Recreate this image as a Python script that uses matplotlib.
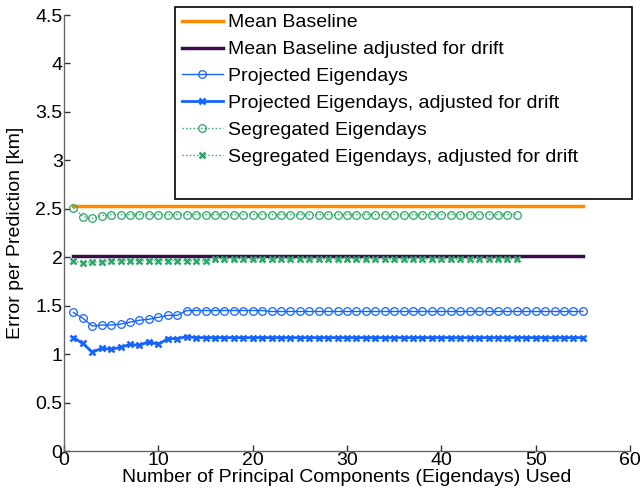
import numpy as np
import matplotlib
matplotlib.use('Agg')
import matplotlib.pyplot as plt
from matplotlib.patches import Rectangle

plt.rcParams['font.family'] = ['Liberation Sans', 'DejaVu Sans']

labels = [
    'Mean Baseline',
    'Mean Baseline adjusted for drift',
    'Projected Eigendays',
    'Projected Eigendays, adjusted for drift',
    'Segregated Eigendays',
    'Segregated Eigendays, adjusted for drift',
]

base_x = [1, 55]
mean_base = [2.53, 2.53]
mean_drift = [2.01, 2.01]

proj_x = list(range(1, 56))
proj = [1.43, 1.37, 1.29, 1.30, 1.30, 1.31, 1.33, 1.35, 1.36, 1.38,
        1.40, 1.40, 1.45, 1.45, 1.45, 1.45, 1.45, 1.45, 1.45, 1.45,
        1.45, 1.44, 1.44, 1.44, 1.44, 1.44, 1.44, 1.44, 1.44, 1.44,
        1.44, 1.44, 1.44, 1.44, 1.44, 1.44, 1.44, 1.44, 1.44, 1.44,
        1.44, 1.44, 1.44, 1.44, 1.44, 1.44, 1.44, 1.44, 1.44, 1.44,
        1.44, 1.44, 1.44, 1.44, 1.44]
proj_drift = [1.17, 1.11, 1.02, 1.06, 1.05, 1.07, 1.10, 1.09, 1.13, 1.10,
              1.16, 1.16, 1.18, 1.17, 1.17, 1.17, 1.17, 1.17, 1.17, 1.17,
              1.17, 1.17, 1.17, 1.17, 1.17, 1.17, 1.17, 1.17, 1.17, 1.17,
              1.17, 1.17, 1.17, 1.17, 1.17, 1.17, 1.17, 1.17, 1.17, 1.17,
              1.17, 1.17, 1.17, 1.17, 1.17, 1.17, 1.17, 1.17, 1.17, 1.17,
              1.17, 1.17, 1.17, 1.17, 1.17]

seg_x = list(range(1, 49))
seg = [2.51, 2.42, 2.40, 2.43, 2.44, 2.44, 2.44, 2.44, 2.44, 2.44,
       2.44, 2.44, 2.44, 2.44, 2.44, 2.44, 2.44, 2.44, 2.44, 2.44,
       2.44, 2.44, 2.44, 2.44, 2.44, 2.44, 2.44, 2.44, 2.44, 2.44,
       2.44, 2.44, 2.44, 2.44, 2.44, 2.44, 2.44, 2.44, 2.44, 2.44,
       2.44, 2.44, 2.44, 2.44, 2.44, 2.44, 2.44, 2.44]
seg_drift = [1.965, 1.94, 1.95, 1.95, 1.965, 1.965, 1.965, 1.965, 1.965, 1.965,
             1.965, 1.965, 1.965, 1.965, 1.965, 1.98, 1.98, 1.98, 1.98, 1.98,
             1.98, 1.98, 1.98, 1.98, 1.98, 1.98, 1.98, 1.98, 1.98, 1.98,
             1.98, 1.98, 1.98, 1.98, 1.98, 1.98, 1.98, 1.98, 1.98, 1.98,
             1.98, 1.98, 1.98, 1.98, 1.98, 1.98, 1.98, 1.98]

orange = '#ff8a00'
purple = '#3a0c4c'
blue = '#1464ff'
green = '#2aa868'

W, H = 642, 496
fig = plt.figure(figsize=(W / 100, H / 100), dpi=100)
ax = fig.add_axes([64 / W, 1 - 451 / H, (630 - 64) / W, (451 - 15) / H])

ax.plot(base_x, mean_base, color=orange, lw=2.5, label=labels[0])
ax.plot(base_x, mean_drift, color=purple, lw=2.5, label=labels[1])
ax.plot(proj_x, proj, color=blue, lw=1.0, marker='o', ms=5.5,
        mfc='none', mec=blue, mew=0.9, label=labels[2])
ax.plot(proj_x, proj_drift, color=blue, lw=2.0, marker='x', ms=4,
        mew=1.8, label=labels[3])
ax.plot(seg_x, seg, color=green, lw=1.0, ls=':', marker='o', ms=5.5,
        mfc='none', mec=green, mew=0.9, label=labels[4])
ax.plot(seg_x, seg_drift, color=green, lw=1.0, ls=':', marker='x', ms=4,
        mew=1.8, label=labels[5])

ax.set_xlim(0, 60)
ax.set_ylim(0, 4.5)
ax.set_xticks(np.arange(0, 61, 10))
ax.set_yticks(np.arange(0, 4.51, 0.5))
ax.set_yticklabels(['0', '0.5', '1', '1.5', '2', '2.5', '3', '3.5', '4', '4.5'])
ax.spines['top'].set_visible(False)
ax.spines['right'].set_visible(False)
for s in ('left', 'bottom'):
    ax.spines[s].set_color('#666666')
    ax.spines[s].set_linewidth(1.0)
ax.tick_params(direction='in', length=4, width=1, color='#333333',
               labelsize=14, pad=1)

ax.set_xlabel('Number of Principal Components (Eigendays) Used', fontsize=14, labelpad=0)
ax.set_ylabel('Error per Prediction [km]', fontsize=14, labelpad=8)

# legend box: text drawn by matplotlib, frame drawn wider like the original
box_l, box_t, box_r, box_b = 175, 7, 632, 199
leg = ax.legend(loc='upper left', bbox_to_anchor=(box_l / W, 1 - box_t / H),
                bbox_transform=fig.transFigure, fontsize=14, numpoints=1,
                frameon=False, borderpad=0.35, labelspacing=0.48,
                handlelength=2.1, handletextpad=0.3, borderaxespad=0.0)
frame = Rectangle((box_l / W, 1 - box_b / H), (box_r - box_l) / W,
                  (box_b - box_t) / H, transform=fig.transFigure,
                  facecolor='white', edgecolor='black', lw=1.2, zorder=4)
fig.add_artist(frame)
leg.set_zorder(5)
fig.add_artist(leg)

fig.savefig('out.png', dpi=100)
